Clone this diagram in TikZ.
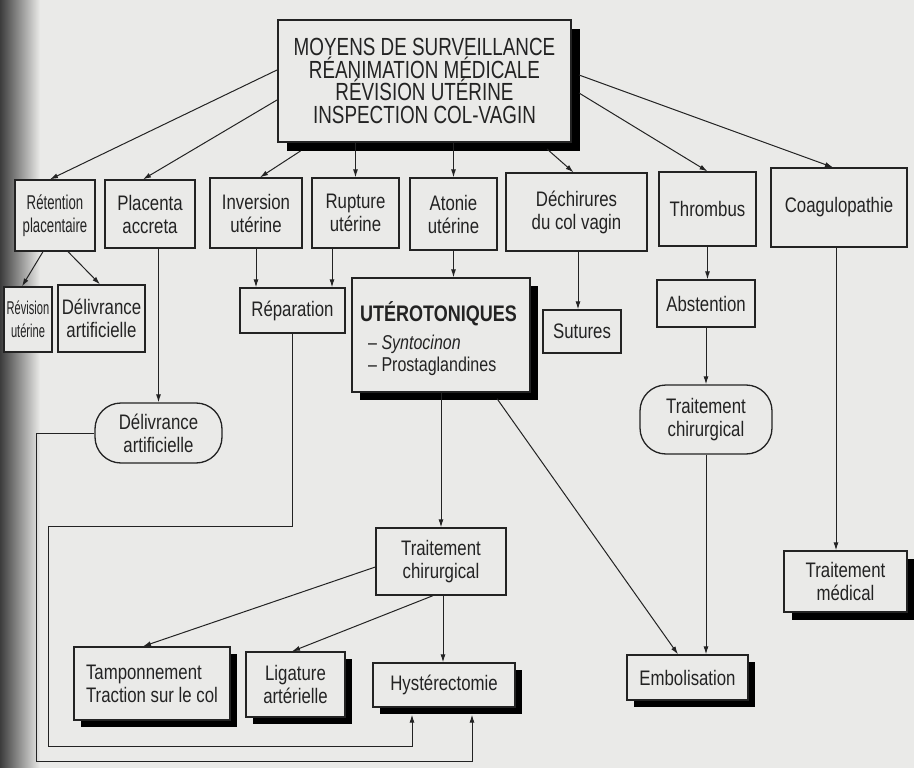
\documentclass[tikz,border=0pt]{standalone}
\usepackage{fontspec}
\setmainfont{Liberation Sans}[FakeStretch=0.8]
\newfontfamily\topfont{Liberation Sans}[FakeStretch=0.76]
\newfontfamily\narrowfont{Liberation Sans}[FakeStretch=0.66]
\newfontfamily\tinyfont{Liberation Sans}[FakeStretch=0.6]
\usetikzlibrary{arrows.meta,shadows}
\definecolor{bg}{RGB}{234,234,232}
\definecolor{ink}{RGB}{35,35,35}
\definecolor{gut}{RGB}{60,60,60}
\begin{document}
\begin{tikzpicture}[x=1pt,y=-1pt,
  box/.style={draw=ink, line width=1.3pt, fill=bg, inner sep=0pt, align=center, text=ink, font=\fontsize{21}{23}\selectfont},
  shbox/.style={box, general shadow={fill=black, shadow xshift=#1, shadow yshift=-#1}},
  shbox/.default=7pt,
  pill/.style={box, rounded corners=26pt},
  conn/.style={draw=ink, line width=1pt, -{Latex[length=8pt,width=5pt]}},
  lbl/.style={anchor=base west, inner sep=0pt, text=ink}
]
\fill[bg] (0,0) rectangle (914,768);
\shade[left color=gut, right color=bg] (0,0) rectangle (40,768);
\useasboundingbox (0,0) rectangle (914,768);

% top box
\node[shbox=9pt, line width=2pt, minimum width=293pt, minimum height=122pt,
      font=\topfont\fontsize{24.8}{22.7}\selectfont] (top) at (424.5,81)
  {MOYENS DE SURVEILLANCE\\RÉANIMATION MÉDICALE\\RÉVISION UTÉRINE\\INSPECTION COL-VAGIN};

% row 2
\node[box, minimum width=80pt, minimum height=71pt, font=\narrowfont\fontsize{20}{23}\selectfont] (ret) at (55,215.5) {Rétention\\placentaire};
\node[box, minimum width=90pt, minimum height=68pt] (plac) at (150,214) {Placenta\\accreta};
\node[box, minimum width=92pt, minimum height=70pt] (inv) at (256,213) {Inversion\\utérine};
\node[box, minimum width=87pt, minimum height=70pt] (rup) at (355.5,213) {Rupture\\utérine};
\node[box, minimum width=87pt, minimum height=72pt] (aton) at (453.5,214) {Atonie\\utérine};
\node[box, minimum width=141pt, minimum height=78pt] (dech) at (576.5,212) {Déchirures\\du col vagin};
\node[box, minimum width=97pt, minimum height=74pt] (thr) at (707.5,209) {Thrombus};
\node[box, minimum width=136pt, minimum height=79pt] (coag) at (839,207.5) {Coagulopathie};

% row 3
\node[box, minimum width=48pt, minimum height=65pt, font=\tinyfont\fontsize{18.5}{23}\selectfont] (rev) at (28,319.5) {Révision\\utérine};
\node[box, minimum width=87pt, minimum height=67pt] (deliv1) at (101.5,318.5) {Délivrance\\artificielle};
\node[box, minimum width=105pt, minimum height=45pt] (rep) at (292.5,310.5) {Réparation};
\node[shbox=8pt, minimum width=178pt, minimum height=114pt] (uter) at (441,335) {};
\node[lbl, font=\bfseries\fontsize{22.5}{24}\selectfont] (uterT) at (360,321) {UTÉROTONIQUES};
\node[lbl, font=\fontsize{20}{23}\selectfont] (syn) at (368,349) {– \textit{Syntocinon}};
\node[lbl, font=\fontsize{20}{23}\selectfont] (pros) at (368,371) {– Prostaglandines};
\node[box, minimum width=78pt, minimum height=43pt] (sut) at (582,331.5) {Sutures};
\node[box, minimum width=98pt, minimum height=47pt] (abst) at (706,303.5) {Abstention};

% row 4
\node[pill, minimum width=127pt, minimum height=60pt] (deliv2) at (158.5,433) {Délivrance\\artificielle};
\node[pill, minimum width=132pt, minimum height=69pt] (tcp) at (706,419.5) {Traitement\\chirurgical};
\node[box, minimum width=130pt, minimum height=67pt] (tcr) at (441,561.5) {Traitement\\chirurgical};
\node[shbox=8pt, minimum width=123pt, minimum height=61pt] (tmed) at (845.5,581.5) {Traitement\\médical};

% row 5
\node[shbox, minimum width=156pt, minimum height=73pt, align=left] (tamp) at (152,683.5) {Tamponnement\\Traction sur le col};
\node[shbox, minimum width=99pt, minimum height=65pt] (lig) at (295.5,684.5) {Ligature\\artérielle};
\node[shbox, minimum width=142pt, minimum height=44pt] (hyst) at (444,685) {Hystérectomie};
\node[shbox, minimum width=121pt, minimum height=45pt] (embol) at (687.5,677.5) {Embolisation};

% connectors from top box
\draw[conn] ([yshift=11pt]top.west) -- ([xshift=-5pt]ret.north);
\draw[conn] ([yshift=-19pt]top.west) -- ([xshift=-7pt]plac.north);
\draw[conn] ([xshift=-124pt,yshift=-8pt]top.south) -- ([xshift=4pt]inv.north);
\draw[conn] (rup.north |- top.south) -- (rup.north);
\draw[conn] (aton.north |- top.south) -- (aton.north);
\draw[conn] ([xshift=122.5pt,yshift=-6pt]top.south) -- ([xshift=-3pt]dech.north);
\draw[conn] ([xshift=7pt,yshift=-12pt]top.east) -- (thr.north);
\draw[conn] ([xshift=7pt,yshift=6pt]top.east) -- ([xshift=-6pt]coag.north);

% row 2 -> row 3
\draw[conn] ([xshift=-12pt]ret.south) -- ([xshift=-6pt]rev.north);
\draw[conn] ([xshift=13pt]ret.south) -- ([xshift=-1.5pt]deliv1.north);
\draw[conn] (deliv2.north |- plac.south) -- (deliv2.north);
\draw[conn] (inv.south) -- (inv.south |- rep.north);
\draw[conn] ([xshift=-23.5pt]rup.south) -- ([xshift=39.5pt]rep.north);
\draw[conn] (aton.south) -- (aton.south |- uter.north);
\draw[conn] ([xshift=1.5pt]dech.south) -- ([xshift=-4pt]sut.north);
\draw[conn] (thr.south) -- (thr.south |- abst.north);
\draw[conn] (abst.south) -- (tcp.north);
\draw[conn] ([xshift=-3pt]coag.south) -- ([xshift=-9.5pt]tmed.north);

% loops to Hysterectomie
\coordinate (lpA) at (48,526);
\coordinate (lpB) at (48,746);
\draw[conn] (rep.south) |- (lpA) -- (lpB) -| ([xshift=-32pt,yshift=-7pt]hyst.south);
\coordinate (lpC) at (36,433);
\coordinate (lpD) at (36,761);
\draw[conn] (deliv2.west) -- (lpC) -- (lpD) -| ([xshift=28pt,yshift=-7pt]hyst.south);

% lower connectors
\draw[conn] (uter.south) -- (tcr.north);
\draw[conn] ([xshift=56pt,yshift=-6pt]uter.south) -- ([xshift=-9.5pt]embol.north);
\draw[conn] (tcp.south) -- (tcp.south |- embol.north);
\draw[conn] ([yshift=-5.5pt]tcr.west) -- ([xshift=-9pt]tamp.north);
\draw[conn] ([xshift=-8pt]tcr.south) -- ([xshift=-3.5pt]lig.north);
\draw[conn] ([xshift=2pt]tcr.south) -- ([xshift=-1pt]hyst.north);
\end{tikzpicture}
\end{document}
